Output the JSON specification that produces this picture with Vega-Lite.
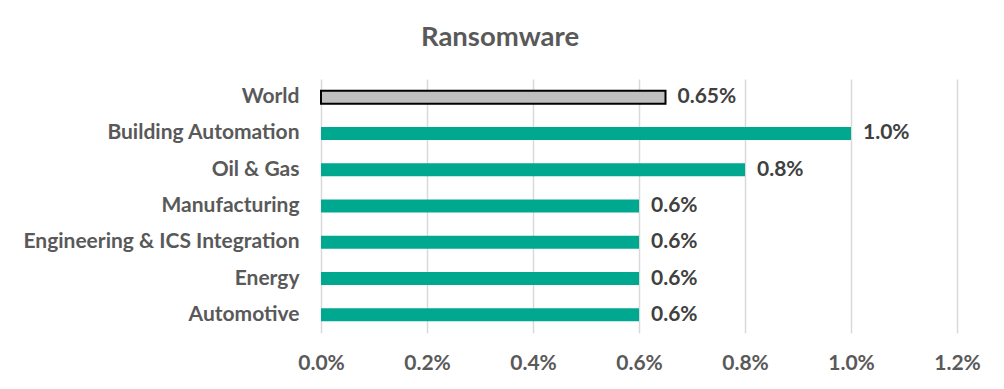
{
  "$schema": "https://vega.github.io/schema/vega-lite/v6.json",
  "width": 636,
  "height": 254,
  "autosize": {"type": "none"},
  "padding": {"left": 321, "top": 79, "right": 47, "bottom": 56},
  "background": "white",
  "config": {"view": {"stroke": null}, "font": "Lato"},
  "title": {
    "text": "Ransomware",
    "font": "Lato",
    "fontSize": 27.5,
    "fontWeight": "bold",
    "color": "#595959",
    "anchor": "middle",
    "frame": "group",
    "dx": -139,
    "offset": 28
  },
  "data": {
    "values": [
      {"category": "World", "value": 0.0065, "label": "0.65%", "type": "world"},
      {"category": "Building Automation", "value": 0.010, "label": "1.0%", "type": "sector"},
      {"category": "Oil & Gas", "value": 0.008, "label": "0.8%", "type": "sector"},
      {"category": "Manufacturing", "value": 0.006, "label": "0.6%", "type": "sector"},
      {"category": "Engineering & ICS Integration\u00a0", "value": 0.006, "label": "0.6%", "type": "sector"},
      {"category": "Energy", "value": 0.006, "label": "0.6%", "type": "sector"},
      {"category": "Automotive", "value": 0.006, "label": "0.6%", "type": "sector"}
    ]
  },
  "encoding": {
    "y": {
      "field": "category",
      "type": "nominal",
      "sort": null,
      "scale": {"paddingInner": 0.6, "paddingOuter": 0.3},
      "axis": {
        "title": null,
        "domain": false,
        "ticks": false,
        "labelPadding": 22,
        "labelFont": "Lato",
        "labelFontSize": 21,
        "labelFontWeight": "bold",
        "labelColor": "#595959",
        "labelLimit": 400
      }
    },
    "x": {
      "field": "value",
      "type": "quantitative",
      "scale": {"domain": [0, 0.012], "nice": false},
      "axis": {
        "title": null,
        "values": [0, 0.002, 0.004, 0.006, 0.008, 0.010, 0.012],
        "format": ".1%",
        "domain": false,
        "ticks": false,
        "grid": true,
        "gridColor": "#d9d9d9",
        "gridWidth": 1.5,
        "labelFlush": false,
        "labelOverlap": false,
        "labelPadding": 19,
        "labelFont": "Lato",
        "labelFontSize": 21,
        "labelFontWeight": "bold",
        "labelColor": "#595959"
      }
    }
  },
  "layer": [
    {
      "mark": {"type": "bar", "size": 13},
      "encoding": {
        "color": {"field": "type", "type": "nominal", "scale": {"domain": ["world", "sector"], "range": ["#BFBFBF", "#00A88F"]}, "legend": null},
        "stroke": {"field": "type", "type": "nominal", "scale": {"domain": ["world", "sector"], "range": ["#000000", "#00A88F"]}, "legend": null},
        "strokeWidth": {"field": "type", "type": "nominal", "scale": {"domain": ["world", "sector"], "range": [2, 0]}, "legend": null}
      }
    },
    {
      "mark": {"type": "text", "align": "left", "baseline": "middle", "dx": 12, "font": "Lato", "fontSize": 21, "fontWeight": "bold", "color": "#404040"},
      "encoding": {"text": {"field": "label"}}
    }
  ]
}
